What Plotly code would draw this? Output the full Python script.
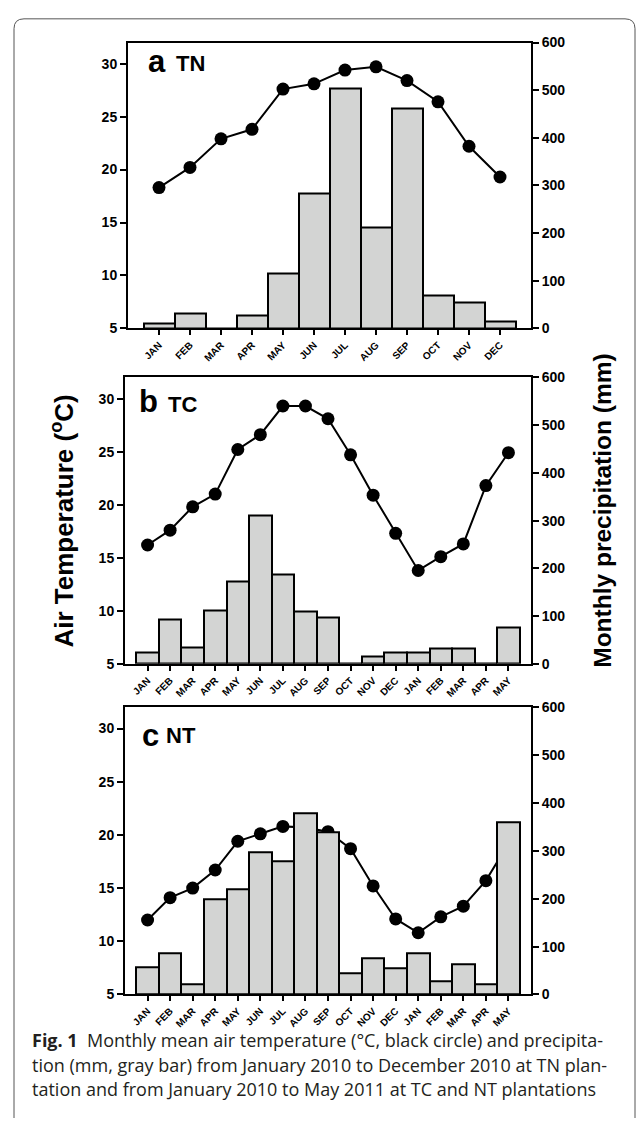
import plotly.graph_objects as go

# ---------------- data ----------------
months_a = ["JAN", "FEB", "MAR", "APR", "MAY", "JUN", "JUL", "AUG", "SEP", "OCT", "NOV", "DEC"]
months_bc = ["JAN", "FEB", "MAR", "APR", "MAY", "JUN", "JUL", "AUG", "SEP", "OCT", "NOV", "DEC",
             "JAN", "FEB", "MAR", "APR", "MAY"]

temp_tn = [18.3, 20.2, 22.9, 23.8, 27.6, 28.1, 29.4, 29.7, 28.4, 26.4, 22.2, 19.3]
prec_tn = [11, 31, 0, 28, 115, 284, 503, 211, 462, 69, 54, 15]

temp_tc = [16.2, 17.6, 19.8, 21.0, 25.2, 26.6, 29.3, 29.3, 28.1, 24.7, 20.9, 17.3,
           13.8, 15.1, 16.3, 21.8, 24.9]
prec_tc = [24, 94, 34, 112, 173, 312, 187, 109, 97, 1, 16, 24, 24, 32, 32, 2, 76]

temp_nt = [12.0, 14.1, 15.0, 16.7, 19.4, 20.1, 20.8, 20.7, 20.3, 18.7, 15.2, 12.1,
           10.8, 12.3, 13.3, 15.7, 19.2]
prec_nt = [56, 86, 22, 200, 220, 297, 278, 378, 339, 45, 76, 55, 86, 28, 63, 22, 359]

panel_letters = ["a", "b", "c"]
panel_sites = ["TN", "TC", "NT"]
temp_ticks = [5, 10, 15, 20, 25, 30]
prec_ticks = [0, 100, 200, 300, 400, 500, 600]

# ---------------- layout helpers ----------------
W, H = 636, 1126
def px(x):
    return x / W
def py(y):
    return 1 - y / H

BAR_FILL = "#d3d4d3"
FONT_AX = "Liberation Sans, Arial, sans-serif"

panels = [
    dict(months=months_a, temp=temp_tn, prec=prec_tn, x0=128, x1=531, top=35, bot=325),
    dict(months=months_bc, temp=temp_tc, prec=prec_tc, x0=125, x1=531, top=374.7, bot=665.3),
    dict(months=months_bc, temp=temp_nt, prec=prec_nt, x0=125, x1=531, top=709.3, bot=1000.7),
]

fig = go.Figure()
layout = dict(
    width=W, height=H,
    margin=dict(l=0, r=0, t=0, b=0),
    paper_bgcolor="white", plot_bgcolor="white",
    showlegend=False, bargap=0,
)

for i, p in enumerate(panels):
    n = len(p["months"])
    xs = list(range(n))
    xa = "x" if i == 0 else f"x{i+1}"
    ya = f"y{2*i+1}" if i > 0 else "y"
    yb = f"y{2*i+2}"
    fig.add_trace(go.Scatter(
        x=xs, y=p["temp"], xaxis=xa, yaxis=ya, mode="lines+markers",
        line=dict(color="black", width=2),
        marker=dict(color="black", size=13),
    ))
    fig.add_trace(go.Bar(
        x=xs, y=p["prec"], xaxis=xa, yaxis=yb, width=1,
        marker=dict(color=BAR_FILL, line=dict(color="black", width=2)),
    ))
    xkey = "xaxis" if i == 0 else f"xaxis{i+1}"
    ykey = "yaxis" if i == 0 else f"yaxis{2*i+1}"
    y2key = f"yaxis{2*i+2}"
    layout[xkey] = dict(
        domain=[px(p["x0"]), px(p["x1"])], anchor=ya, range=[-1, n],
        tickmode="array", tickvals=xs, ticktext=p["months"], tickangle=-45,
        ticks="outside", ticklen=5, tickwidth=1.5, tickcolor="black",
        showline=True, linecolor="black", linewidth=2, mirror=True,
        showgrid=False, zeroline=False,
        tickfont=dict(family=FONT_AX, size=10, color="black", weight="bold"),
        fixedrange=True,
    )
    layout[ykey] = dict(
        domain=[py(p["bot"]), py(p["top"])], anchor=xa, range=[5, 32],
        tickmode="array", tickvals=temp_ticks,
        ticks="outside", ticklen=6, tickwidth=1.5, tickcolor="black",
        showline=True, linecolor="black", linewidth=2,
        showgrid=False, zeroline=False,
        tickfont=dict(family=FONT_AX, size=14, color="black", weight="bold"),
    )
    layout[y2key] = dict(
        domain=[py(p["bot"]), py(p["top"])], anchor=xa, overlaying=ya, side="right",
        range=[0, 600], tickmode="array", tickvals=prec_ticks,
        ticks="outside", ticklen=6, tickwidth=1.5, tickcolor="black",
        showline=True, linecolor="black", linewidth=2,
        showgrid=False, zeroline=False,
        tickfont=dict(family=FONT_AX, size=14, color="black", weight="bold"),
    )

fig.update_layout(**layout)

# panel labels
label_pos = [(146, 54, 174, 56), (137, 399, 166, 402), (140, 738, 164, 738)]
for (lx, ly, sx, sy), letter, site in zip(label_pos, panel_letters, panel_sites):
    fig.add_annotation(x=px(lx), y=py(ly), xref="paper", yref="paper", text=f"<b>{letter}</b>",
                       showarrow=False, xanchor="left", yanchor="middle",
                       font=dict(family=FONT_AX, size=31, color="black"))
    fig.add_annotation(x=px(sx), y=py(sy), xref="paper", yref="paper", text=f"<b>{site}</b>",
                       showarrow=False, xanchor="left", yanchor="middle",
                       font=dict(family=FONT_AX, size=22, color="black"))

# axis titles
fig.add_annotation(x=px(63), y=py(521), xref="paper", yref="paper",
                   text="<b>Air Temperature (<sup>o</sup>C)</b>", textangle=-90,
                   showarrow=False, xanchor="center", yanchor="middle",
                   font=dict(family=FONT_AX, size=26, color="black"))
fig.add_annotation(x=px(603), y=py(510), xref="paper", yref="paper",
                   text="<b>Monthly precipitation (mm)</b>", textangle=-90,
                   showarrow=False, xanchor="center", yanchor="middle",
                   font=dict(family=FONT_AX, size=24.5, color="black"))

# caption
cap_lines = [
    "<b>Fig. 1</b>  Monthly mean air temperature (°C, black circle) and precipita-",
    "tion (mm, gray bar) from January 2010 to December 2010 at TN plan-",
    "tation and from January 2010 to May 2011 at TC and NT plantations",
]
for k, line in enumerate(cap_lines):
    fig.add_annotation(x=px(30), y=py(1047 + 25 * k), xref="paper", yref="paper", text=line,
                       showarrow=False, xanchor="left", yanchor="middle", align="left",
                       font=dict(family="Open Sans, sans-serif", size=18, color="#231f20"))

# outer rounded border (left, top, right edges)
r = 10
path = (f"M {px(14)},{py(H)} L {px(14)},{py(11 + r)} Q {px(14)},{py(11)} {px(14 + r)},{py(11)} "
        f"L {px(635 - r)},{py(11)} Q {px(635)},{py(11)} {px(635)},{py(11 + r)} L {px(635)},{py(H)}")
fig.add_shape(type="path", path=path, xref="paper", yref="paper",
              line=dict(color="#555555", width=1))

fig.write_html("out.html")
